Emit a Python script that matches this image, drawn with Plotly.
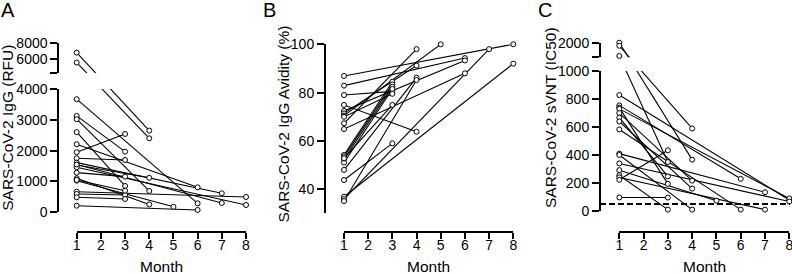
import plotly.graph_objects as go

W, H = 792, 274
FONT = "Liberation Sans, Arial, sans-serif"

# ---------------- data (month 1 value -> later month / value) ----------------
A_first = [6825, 5575, 3669, 3127, 3020, 2600, 2208, 1948, 1753, 1611, 1536,
           1461, 1286, 1104, 1026, 669, 594, 487, 214, 1550, 1050]
A_month = [4, 4, 6, 3, 4, 3, 6, 3, 3, 7, 4, 8, 3, 4, 5, 8, 3, 3, 6, 7, 3]
A_last = [2650, 2400, 292, 1968, 692, 854, 811, 2542, 1698, 617, 1120,
          237, 1156, 255, 180, 497, 562, 432, 75, 302, 701]

B_first = [86.9, 82.9, 79.0, 74.9, 72.4, 71.4, 70.5, 67.3, 64.9, 54.2,
           53.5, 52.4, 51.0, 48.0, 43.8, 36.9, 35.9, 35.1, 70.0, 52.8]
B_month = [8, 6, 3, 4, 6, 4, 5, 4, 6, 3, 3, 3, 3, 4, 3, 8, 7, 4, 3, 3]
B_last = [100, 94.3, 80.5, 63.8, 93.3, 91.2, 100, 98, 88, 84.5,
          83.4, 82.4, 81.5, 86.2, 59.0, 92, 98, 85.2, 79.5, 74.9]

C_first = [2000, 1790, 1089, 829, 755, 739, 730, 700, 667, 640,
           583, 410, 400, 340, 292, 256, 240, 223, 97]
C_month = [4, 4, 3, 8, 6, 3, 8, 4, 3, 4, 6, 7, 4, 8, 5, 3, 7, 3, 3]
C_last = [367, 590, 350, 78, 230, 194, 90, 217, 247, 160,
          10, 134, 10, 68, 74, 10, 10, 434, 96]
C_threshold = 50

months = [1, 2, 3, 4, 5, 6, 7, 8]
A_low_ticks = [0, 1000, 2000, 3000, 4000]
A_high_ticks = [6000, 8000]
B_ticks = [40, 60, 80, 100]
C_low_ticks = [0, 200, 400, 600, 800, 1000]
C_high_ticks = [2000]

# ---------------- geometry (pixels) ----------------
A_LO_R, A_LO_P = (0, 4000), (212.3, 89.0)
A_HI_R, A_HI_P = (4250, 8000), (73.0, 43.3)
C_LO_R, C_LO_P = (0, 1000), (211.0, 71.1)
C_HI_R, C_HI_P = (1000, 2000), (57.3, 42.7)
B_R, B_P = (30, 100), (213.4, 44.3)


def lin(v, r, p):
    return p[0] + (v - r[0]) * (p[1] - p[0]) / (r[1] - r[0])


def pyy(pix):
    return 1 - pix / H


def pxx(pix):
    return pix / W


def a_map(v):
    return pyy(lin(v, A_LO_R, A_LO_P) if v <= A_LO_R[1] else lin(v, A_HI_R, A_HI_P))


def c_map(v):
    return pyy(lin(v, C_LO_R, C_LO_P) if v <= C_LO_R[1] else lin(v, C_HI_R, C_HI_P))


fig = go.Figure()

LINE = dict(color="black", width=1.1)
MARK = dict(symbol="circle", size=5, color="white", line=dict(color="black", width=1))


def add_panel(xa, segs, first, mon, last, ymap):
    for ya, keep in segs:
        for v1, m, v2 in zip(first, mon, last):
            fig.add_trace(go.Scatter(x=[1, m], y=[ymap(v1), ymap(v2)], mode="lines",
                                     line=LINE, xaxis=xa, yaxis=ya,
                                     hoverinfo="skip", showlegend=False))
    for ya, keep in segs:
        xs, ys = [], []
        for v1, m, v2 in zip(first, mon, last):
            for mm, vv in ((1, v1), (m, v2)):
                if keep(vv):
                    xs.append(mm)
                    ys.append(ymap(vv))
        fig.add_trace(go.Scatter(x=xs, y=ys, mode="markers", marker=MARK,
                                 xaxis=xa, yaxis=ya, cliponaxis=False,
                                 hoverinfo="skip", showlegend=False))


add_panel("x", [("y", lambda v: v <= A_LO_R[1]), ("y2", lambda v: v >= A_HI_R[0])],
          A_first, A_month, A_last, a_map)
add_panel("x2", [("y3", lambda v: True)], B_first, B_month, B_last, lambda v: v)
add_panel("x3", [("y4", lambda v: v <= C_LO_R[1]), ("y5", lambda v: v > C_LO_R[1])],
          C_first, C_month, C_last, c_map)

TICKF = dict(family=FONT, size=14, color="black")
AX = dict(showline=True, linewidth=2, linecolor="black", ticks="outside",
          tickwidth=2, tickcolor="black", showgrid=False, zeroline=False,
          tickfont=TICKF, fixedrange=True, automargin=False,
          ticklabeloverflow="allow")
X_POS = pyy(232)


def xaxis(x0, x1):
    return dict(AX, domain=[pxx(x0), pxx(x1)], range=[1, 8], anchor="free",
                position=X_POS, tickvals=months, ticklen=6, ticklabelstandoff=-6)


def yaxis(xpos, p0, p1, rng, tv, tt):
    return dict(AX, domain=[pyy(p0), pyy(p1)], range=rng, anchor="free",
                position=pxx(xpos), tickvals=tv, ticktext=tt, ticklen=7)


a_lo = [pyy(A_LO_P[0]), pyy(A_LO_P[1])]
a_hi = [pyy(A_HI_P[0]), pyy(A_HI_P[1])]
c_lo = [pyy(C_LO_P[0]), pyy(C_LO_P[1])]
c_hi = [pyy(C_HI_P[0]), pyy(C_HI_P[1])]

fig.update_layout(
    width=W, height=H, autosize=False, margin=dict(l=0, r=0, t=0, b=0, pad=0),
    paper_bgcolor="white", plot_bgcolor="rgba(0,0,0,0)",
    font=dict(family=FONT, color="black"),
    xaxis=xaxis(76.7, 246.0),
    xaxis2=xaxis(344.0, 513.3),
    xaxis3=xaxis(619.3, 789.3),
    yaxis=yaxis(58.3, A_LO_P[0], A_LO_P[1], a_lo,
                [a_map(t) for t in A_low_ticks], [str(t) for t in A_low_ticks]),
    yaxis2=yaxis(58.3, A_HI_P[0], A_HI_P[1], a_hi,
                 [a_hi[0]] + [a_map(t) for t in A_high_ticks],
                 [""] + [str(t) for t in A_high_ticks]),
    yaxis3=yaxis(325.0, B_P[0], B_P[1], list(B_R), B_ticks, [str(t) for t in B_ticks]),
    yaxis4=yaxis(600.0, C_LO_P[0], C_LO_P[1], c_lo,
                 [c_map(t) for t in C_low_ticks], [str(t) for t in C_low_ticks]),
    yaxis5=yaxis(600.0, C_HI_P[0], C_HI_P[1], c_hi,
                 [c_hi[0]] + [c_map(t) for t in C_high_ticks],
                 [""] + [str(t) for t in C_high_ticks]),
)

fig.add_shape(type="line", xref="paper", yref="paper",
              x0=pxx(600), x1=pxx(790), y0=c_map(C_threshold), y1=c_map(C_threshold),
              line=dict(color="black", width=2, dash="6px,3px"))

TITLEF = dict(family=FONT, size=15.5, color="black")
ann = []
for txt, xc, yc in [("SARS-CoV-2 IgG (RFU)", 7.5, 128.3),
                    ("SARS-CoV-2 IgG Avidity (%)", 282.5, 124.0),
                    ("SARS-CoV-2 sVNT (IC50)", 550.0, 118.0)]:
    ann.append(dict(text=txt, x=pxx(xc), y=pyy(yc), xref="paper", yref="paper",
                    textangle=-90, showarrow=False, xanchor="center", yanchor="middle",
                    font=TITLEF))
for xc in [161.4, 428.7, 704.3]:
    ann.append(dict(text="Month", x=pxx(xc), y=pyy(266), xref="paper", yref="paper",
                    showarrow=False, xanchor="center", yanchor="middle", font=TITLEF))
for txt, xc in [("A", 8), ("B", 269.5), ("C", 545)]:
    ann.append(dict(text=txt, x=pxx(xc), y=pyy(10), xref="paper", yref="paper",
                    showarrow=False, xanchor="center", yanchor="middle",
                    font=dict(family=FONT, size=20, color="black")))
fig.update_layout(annotations=ann)

fig.write_html("out.html", config={"responsive": False, "displayModeBar": False},
               post_script="document.body.style.margin='0px';"
                           "document.documentElement.style.overflow='hidden';"
                           "document.body.style.overflow='hidden';")
